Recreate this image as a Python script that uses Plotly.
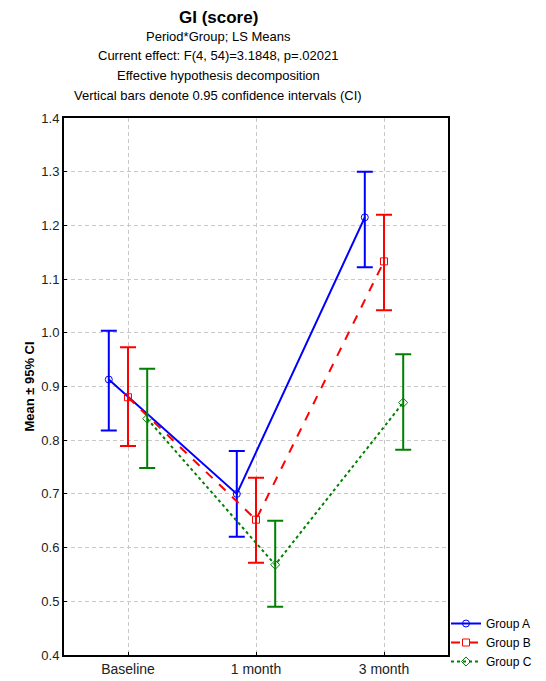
import plotly.graph_objects as go

periods = ["Baseline", "1 month", "3 month"]
groups = ["Group A", "Group B", "Group C"]
means = {
    "Group A": [0.913, 0.700, 1.215],
    "Group B": [0.880, 0.652, 1.133],
    "Group C": [0.840, 0.568, 0.870],
}
upper = {
    "Group A": [1.004, 0.780, 1.300],
    "Group B": [0.973, 0.730, 1.220],
    "Group C": [0.933, 0.650, 0.960],
}
lower = {
    "Group A": [0.818, 0.620, 1.122],
    "Group B": [0.789, 0.572, 1.042],
    "Group C": [0.748, 0.490, 0.782],
}
colors = {"Group A": "#0000FF", "Group B": "#FF0000", "Group C": "#008000"}
dashes = {"Group A": "solid", "Group B": "dash", "Group C": "dot"}
symbols = {"Group A": "circle-open", "Group B": "square-open", "Group C": "diamond-open"}
offsets = {"Group A": -0.15, "Group B": 0.0, "Group C": 0.15}

fig = go.Figure()
for g in groups:
    xs = [i + offsets[g] for i in range(len(periods))]
    m = means[g]
    fig.add_trace(go.Scatter(
        x=xs, y=m, name=g, mode="lines+markers",
        line=dict(color=colors[g], width=2, dash=dashes[g]),
        marker=dict(symbol=symbols[g], size=7, color=colors[g],
                    line=dict(width=1, color=colors[g])),
        error_y=dict(type="data", symmetric=False,
                     array=[u - v for u, v in zip(upper[g], m)],
                     arrayminus=[v - l for v, l in zip(m, lower[g])],
                     color=colors[g], thickness=2, width=8),
    ))

# page body has an 8px margin; figure occupies (8,8)..(546,681)
OFF = 8
W, H = 546 - OFF, 681 - OFF
# plot area in window pixels: left 64, right 448, top 118, bottom 655
L, R, T, B = 64, 448, 118, 655
def px(xp):
    return (xp - L) / (R - L)
def py(yp):
    return (B - yp) / (B - T)

title_lines = [
    ("<b>GI (score)</b>", 17, 17),
    ("Period*Group; LS Means", 13, 36),
    ("Current effect: F(4, 54)=3.1848, p=.02021", 13, 55),
    ("Effective hypothesis decomposition", 13, 75),
    ("Vertical bars denote 0.95 confidence intervals (CI)", 13, 95),
]
annotations = []
for t, s, ypx in title_lines:
    annotations.append(dict(text=t, x=px(218), y=py(ypx), xref="paper", yref="paper",
                            xanchor="center", yanchor="middle", showarrow=False,
                            font=dict(size=s, color="black")))

fig.update_layout(
    width=W, height=H,
    margin=dict(l=L - OFF, r=546 - R, t=T - OFF, b=681 - B, autoexpand=False),
    paper_bgcolor="white", plot_bgcolor="white",
    font=dict(family="Liberation Sans, Arial", size=12, color="black"),
    showlegend=True,
    legend=dict(x=px(446), y=py(676), xanchor="left", yanchor="bottom",
                font=dict(size=12), tracegroupgap=0, itemwidth=30,
                bgcolor="rgba(0,0,0,0)"),
    annotations=annotations,
)
fig.update_xaxes(
    range=[-0.5, 2.5], tickvals=[0, 1, 2], ticktext=periods,
    showgrid=True, gridcolor="#c8c8c8", griddash="4px,3px", gridwidth=1,
    showline=True, linecolor="black", linewidth=2, mirror=True,
    ticks="inside", ticklen=3, tickcolor="black", zeroline=False,
    tickfont=dict(size=14, color="#222"), automargin=False,
)
fig.update_yaxes(
    range=[0.4, 1.4], dtick=0.1, tickformat=".1f",
    showgrid=True, gridcolor="#c8c8c8", griddash="4px,3px", gridwidth=1,
    showline=True, linecolor="black", linewidth=2, mirror=True,
    ticks="inside", ticklen=3, tickcolor="black", zeroline=False,
    tickfont=dict(size=13, color="#222"), automargin=False,
    title=dict(text="<b>Mean ± 95% CI</b>", font=dict(size=13), standoff=4),
)
fig.write_html("out.html")
